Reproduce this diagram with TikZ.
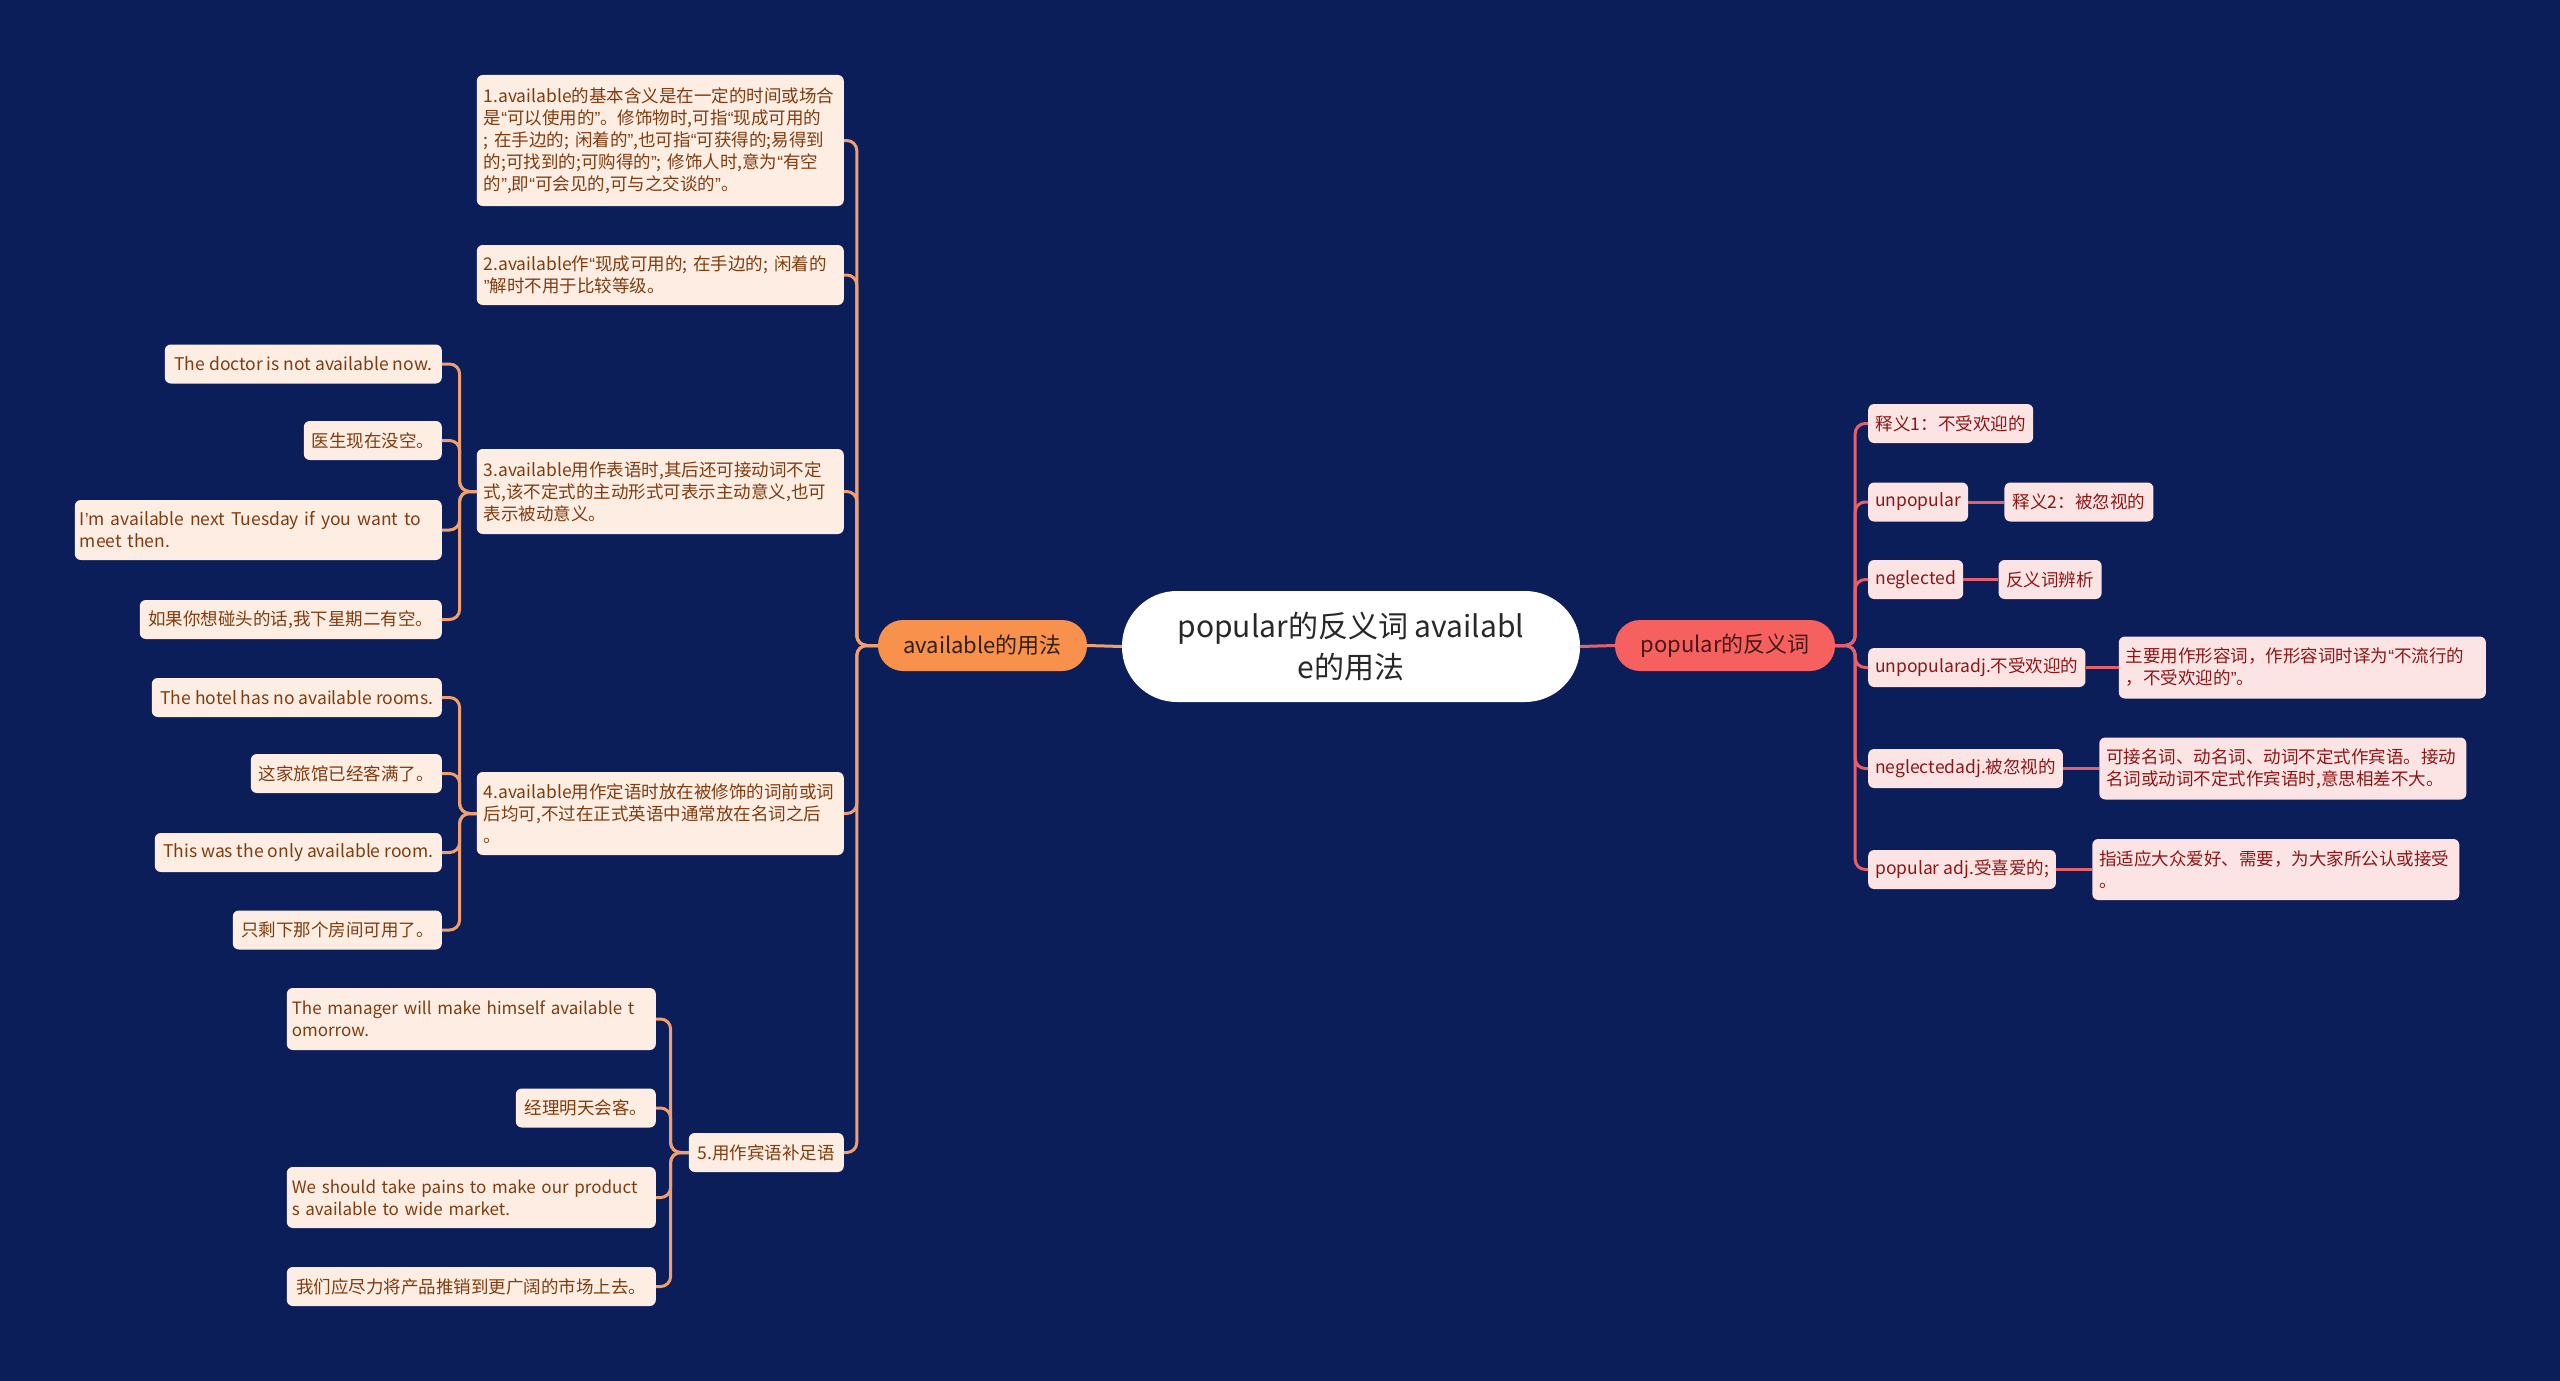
\documentclass[tikz,border=0pt]{standalone}
\usepackage{fontspec}
\setmainfont{Noto Sans CJK SC}
\newfontfamily\latinfont{Liberation Sans}
\usetikzlibrary{positioning}

\definecolor{bgnavy}{RGB}{12,30,89}
\definecolor{roottext}{RGB}{40,40,40}
\definecolor{lorange}{RGB}{248,145,75}
\definecolor{lbranchtext}{RGB}{50,32,20}
\definecolor{rred}{RGB}{246,96,94}
\definecolor{rbranchtext}{RGB}{70,24,24}
\definecolor{lleaffill}{RGB}{253,237,226}
\definecolor{lleaftext}{RGB}{128,60,16}
\definecolor{rleaffill}{RGB}{253,228,228}
\definecolor{rleaftext}{RGB}{140,22,22}
\definecolor{lwirecol}{RGB}{240,160,112}
\definecolor{rwirecol}{RGB}{228,96,106}

\newcommand\qo{{\latinfont “}}
\newcommand\qc{{\latinfont ”}}
\newcommand\qa{{\latinfont ’}}

\tikzset{
  root/.style={fill=white, text=roottext, rounded corners=55pt,
    minimum width=458pt, minimum height=111pt, align=center,
    font=\fontsize{30pt}{41pt}\selectfont},
  branch/.style={rounded corners=25pt, minimum height=51pt,
    font=\fontsize{22pt}{26pt}\selectfont},
  lbranch/.style={branch, fill=lorange, text=lbranchtext, minimum width=209pt},
  rbranch/.style={branch, fill=rred, text=rbranchtext, minimum width=220pt},
  leaf/.style={rounded corners=6pt, inner xsep=7pt, inner ysep=4pt,
    minimum height=39pt, font=\fontsize{17.5pt}{22pt}\selectfont},
  lleaf/.style={leaf, fill=lleaffill, text=lleaftext},
  rleaf/.style={leaf, fill=rleaffill, text=rleaftext},
  wide/.style={text width=#1, align=left},
  lwire/.style={draw=lwirecol, line width=3pt, rounded corners=10pt},
  rwire/.style={draw=rwirecol, line width=3pt, rounded corners=10pt}
}

\begin{document}
\begin{tikzpicture}[x=1pt,y=-1pt]
  \fill[bgnavy] (0,0) rectangle (2560,1381);

  \node[root] (root) at (1351,646.5) {popular的反义词 availabl\\e的用法};
  \node[lbranch] (avail) at (982.5,645.5) {available的用法};
  \node[rbranch] (pop) at (1725,645.5) {popular的反义词};

  \node[lleaf, wide=353pt, minimum height=131pt, anchor=east] (n1) at (844,140.5)
    {1.available的基本含义是在一定的时间或场合\\
     是\qo 可以使用的\qc。修饰物时,可指\qo 现成可用的\\
     ; 在手边的; 闲着的\qc,也可指\qo 可获得的;易得到\\
     的;可找到的;可购得的\qc; 修饰人时,意为\qo 有空\\
     的\qc,即\qo 可会见的,可与之交谈的\qc。};
  \node[lleaf, wide=353pt, minimum height=60pt, anchor=east] (n2) at (844,275)
    {2.available作\qo 现成可用的; 在手边的; 闲着的\\
     \qc 解时不用于比较等级。};
  \node[lleaf, wide=353pt, minimum height=85pt, anchor=east] (n3) at (844,491.5)
    {3.available用作表语时,其后还可接动词不定\\
     式,该不定式的主动形式可表示主动意义,也可\\
     表示被动意义。};
  \node[lleaf, wide=353pt, minimum height=83pt, anchor=east] (n4) at (844,813.5)
    {4.available用作定语时放在被修饰的词前或词\\
     后均可,不过在正式英语中通常放在名词之后\\
     。};
  \node[lleaf, minimum width=155pt, anchor=east] (n5) at (844,1152.5) {5.用作宾语补足语};

  \node[lleaf, minimum width=277pt, anchor=east] (a1) at (442,364) {The doctor is not available now.};
  \node[lleaf, minimum width=138pt, anchor=east] (a2) at (442,440.5) {医生现在没空。};
  \node[lleaf, wide=357pt, inner xsep=5pt, minimum height=60pt, anchor=east] (a3) at (442,530)
    {I\qa m available next Tuesday if you want to\\meet then.};
  \node[lleaf, minimum width=302pt, anchor=east] (a4) at (442,619.5) {如果你想碰头的话,我下星期二有空。};

  \node[lleaf, minimum width=290pt, anchor=east] (b1) at (442,697.5) {The hotel has no available rooms.};
  \node[lleaf, minimum width=191pt, anchor=east] (b2) at (442,773.5) {这家旅馆已经客满了。};
  \node[lleaf, minimum width=287pt, anchor=east] (b3) at (442,852.5) {This was the only available room.};
  \node[lleaf, minimum width=209pt, anchor=east] (b4) at (442,930) {只剩下那个房间可用了。};

  \node[lleaf, wide=359pt, inner xsep=5pt, minimum height=62pt, anchor=east,
    font=\fontsize{17pt}{22pt}\selectfont] (c1) at (656,1019)
    {The manager will make himself available t\\omorrow.};
  \node[lleaf, minimum width=140pt, anchor=east] (c2) at (656,1108) {经理明天会客。};
  \node[lleaf, wide=359pt, inner xsep=5pt, minimum height=61pt, anchor=east,
    font=\fontsize{17pt}{22pt}\selectfont] (c3) at (656,1197.5)
    {We should take pains to make our product\\s available to wide market.};
  \node[lleaf, minimum width=369pt, anchor=east] (c4) at (656,1286.5) {我们应尽力将产品推销到更广阔的市场上去。};

  \node[rleaf, minimum width=165pt, anchor=west] (r1) at (1868,423.5) {释义1：不受欢迎的};
  \node[rleaf, minimum width=96pt, anchor=west] (r2) at (1868,502) {unpopular};
  \node[rleaf, minimum width=95pt, anchor=west] (r3) at (1868,579.5) {neglected};
  \node[rleaf, minimum width=215pt, anchor=west] (r4) at (1868,667.5) {unpopularadj.不受欢迎的};
  \node[rleaf, minimum width=194pt, anchor=west] (r5) at (1868,768.5) {neglectedadj.被忽视的};
  \node[rleaf, minimum width=186pt, anchor=west] (r6) at (1868,869.5) {popular adj.受喜爱的;};

  \node[rleaf, minimum width=149pt, right=36pt of r2] (g2) {释义2：被忽视的};
  \node[rleaf, minimum width=103pt, right=35pt of r3] (g3) {反义词辨析};
  \node[rleaf, wide=353pt, minimum height=62pt, right=33pt of r4] (g4)
    {主要用作形容词，作形容词时译为\qo 不流行的\\，不受欢迎的\qc。};
  \node[rleaf, wide=353pt, minimum height=62pt, right=36pt of r5] (g5)
    {可接名词、动名词、动词不定式作宾语。接动\\名词或动词不定式作宾语时,意思相差不大。};
  \node[rleaf, wide=353pt, minimum height=61pt, right=36pt of r6] (g6)
    {指适应大众爱好、需要，为大家所公认或接受\\。};

  \draw[lwire] (root.west) -- (avail.east);
  \draw[rwire] (root.east) -- (pop.west);
  \foreach \c in {n1,n2,n3,n4,n5}
    \draw[lwire] (avail.west) -- ++(-21,0) |- (\c.east);
  \foreach \c in {a1,a2,a3,a4}
    \draw[lwire] (n3.west) -- ++(-17,0) |- (\c.east);
  \foreach \c in {b1,b2,b3,b4}
    \draw[lwire] (n4.west) -- ++(-17,0) |- (\c.east);
  \foreach \c in {c1,c2,c3,c4}
    \draw[lwire] (n5.west) -- ++(-18,0) |- (\c.east);
  \foreach \c in {r1,r2,r3,r4,r5,r6}
    \draw[rwire] (pop.east) -- ++(20,0) |- (\c.west);
  \foreach \i in {2,...,6}
    \draw[rwire] (r\i.east) -- (g\i.west);
\end{tikzpicture}
\end{document}
